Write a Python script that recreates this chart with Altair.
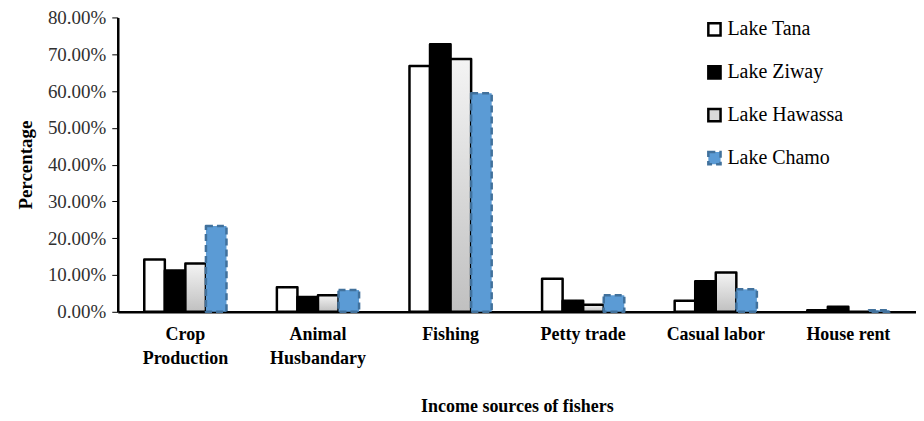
import altair as alt
import pandas as pd

categories = ["Crop|Production", "Animal|Husbandary", "Fishing", "Petty trade", "Casual labor", "House rent"]
lakes = ["Lake Tana", "Lake Ziway", "Lake Hawassa", "Lake Chamo"]
tana = [0.142, 0.067, 0.668, 0.090, 0.030, 0.004]
ziway = [0.112, 0.040, 0.727, 0.030, 0.083, 0.014]
hawassa = [0.131, 0.045, 0.687, 0.019, 0.107, 0.0]
chamo = [0.233, 0.059, 0.594, 0.045, 0.061, 0.004]

rows = []
for lake, vals in zip(lakes, [tana, ziway, hawassa, chamo]):
    for c, v in zip(categories, vals):
        rows.append({"Category": c, "Lake": lake, "Value": v})
df = pd.DataFrame(rows)

font = "'Liberation Serif', 'Times New Roman', 'DejaVu Serif', serif"
gradient = {
    "gradient": "linear", "x1": 0, "y1": 0, "x2": 0, "y2": 1,
    "stops": [{"offset": 0, "color": "#f4f4f4"}, {"offset": 1, "color": "#c0c0c0"}],
}

legend = alt.Legend(
    title=None, orient="none", legendX=588, legendY=2, symbolType="square",
    symbolSize=150, labelFont=font, labelFontSize=20, labelColor="black",
    rowPadding=19, labelOffset=3, symbolStrokeWidth=2.5, labelLimit=300,
)

chart = alt.Chart(df).mark_bar(strokeWidth=2.5, strokeJoin="round").encode(
    x=alt.X("Category:N", sort=categories, title="Income sources of fishers",
            scale=alt.Scale(paddingInner=0.38, paddingOuter=0.2),
            axis=alt.Axis(labelExpr="split(datum.value, '|')", labelAngle=0,
                          labelFont=font, labelFontSize=18, labelFontWeight="bold",
                          labelColor="black", ticks=False, labelPadding=14,
                          labelLineHeight=24, domainColor="black", domainWidth=2.5,
                          labelLimit=300,
                          titleFont=font, titleFontSize=18, titleFontWeight="bold",
                          titlePadding=30, titleColor="black")),
    xOffset=alt.XOffset("Lake:N", sort=lakes),
    y=alt.Y("Value:Q", title="Percentage",
            scale=alt.Scale(domain=[0, 0.8]),
            axis=alt.Axis(format=".2%", values=[i / 10 for i in range(9)], grid=False,
                          labelFont=font, labelFontSize=19, labelColor="#303030",
                          tickColor="black", tickSize=6, domainColor="black", domainWidth=2.5,
                          labelPadding=6,
                          titleFont=font, titleFontSize=19, titleFontWeight="bold",
                          titleColor="black", titlePadding=12)),
    fill=alt.condition(
        alt.datum.Lake == "Lake Hawassa",
        alt.value(gradient),
        alt.Fill("Lake:N", sort=lakes,
                 scale=alt.Scale(domain=lakes, range=["white", "black", "#d9d9d9", "#5b9bd5"]),
                 legend=legend),
    ),
    stroke=alt.Stroke("Lake:N", sort=lakes,
                      scale=alt.Scale(domain=lakes, range=["black", "black", "black", "#41719c"]),
                      legend=legend),
    strokeDash=alt.StrokeDash("Lake:N", sort=lakes,
                              scale=alt.Scale(domain=lakes, range=[[1, 0], [1, 0], [1, 0], [7, 4]]),
                              legend=legend),
).properties(
    width=800, height=295,
    autosize=alt.AutoSizeParams(type="none"),
    padding={"left": 110, "top": 9, "right": 0, "bottom": 108},
).configure_view(stroke=None)

chart.save("out.html", embed_options={"renderer": "svg", "actions": False})
